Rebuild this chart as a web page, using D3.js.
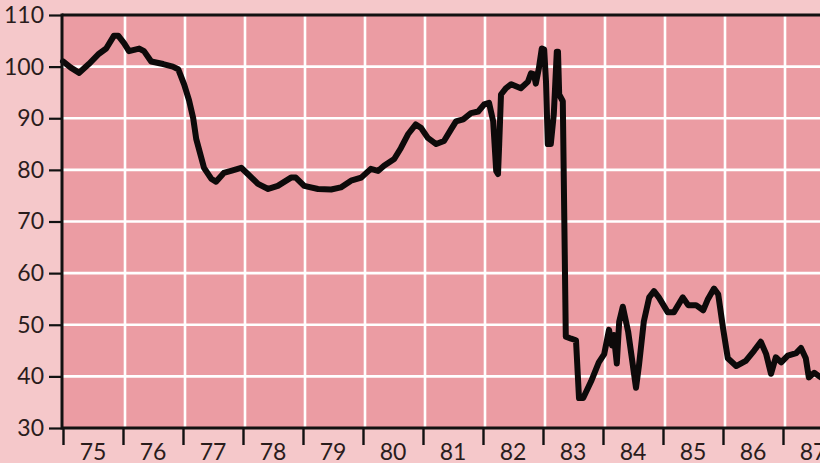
<!DOCTYPE html>
<html>
<head>
<meta charset="utf-8">
<script src="https://cdn.jsdelivr.net/npm/d3@7"></script>
<style>
  html, body { margin: 0; padding: 0; background: #f5c8ca; overflow: hidden; }
  svg { display: block; }
  text { font-family: Lato, "Open Sans", sans-serif; fill: #2a1c1c; }
</style>
</head>
<body>
<svg id="chart" width="820" height="463"></svg>
<script>
// ---- data (decimal year, index value) ----
const dates = [
  1975.00,1975.13,1975.27,1975.43,1975.60,1975.72,1975.85,1975.92,1976.02,1976.10,
  1976.27,1976.35,1976.47,1976.67,1976.83,1976.92,1977.02,1977.10,1977.17,1977.22,
  1977.35,1977.47,1977.55,1977.68,1977.80,1977.97,1978.08,1978.25,1978.42,1978.58,
  1978.80,1978.88,1979.02,1979.25,1979.47,1979.63,1979.80,1979.97,1980.13,1980.25,
  1980.35,1980.52,1980.63,1980.75,1980.88,1980.97,1981.08,1981.22,1981.35,1981.47,
  1981.55,1981.67,1981.80,1981.92,1982.02,1982.10,1982.17,1982.22,1982.25,1982.27,
  1982.30,1982.38,1982.47,1982.63,1982.75,1982.80,1982.85,1982.88,1982.93,1982.98,
  1983.02,1983.05,1983.08,1983.13,1983.18,1983.23,1983.25,1983.27,1983.33,1983.38,
  1983.47,1983.55,1983.60,1983.67,1983.80,1983.93,1984.02,1984.10,1984.15,1984.18,
  1984.23,1984.27,1984.33,1984.42,1984.55,1984.60,1984.68,1984.77,1984.85,1984.93,
  1985.08,1985.18,1985.33,1985.42,1985.55,1985.67,1985.75,1985.85,1985.92,1986.00,
  1986.08,1986.22,1986.38,1986.52,1986.63,1986.72,1986.80,1986.88,1986.97,1987.08,
  1987.22,1987.30,1987.38,1987.43,1987.52,1987.63
];
const values = [
  101.0,99.8,98.8,100.5,102.5,103.5,106.0,106.0,104.5,103.0,
  103.5,103.0,101.0,100.5,100.0,99.5,96.5,93.5,90.0,86.0,
  80.4,78.3,77.7,79.4,79.8,80.4,79.2,77.3,76.3,76.9,
  78.5,78.5,76.9,76.3,76.2,76.6,77.9,78.5,80.2,79.8,
  80.8,82.1,84.2,86.9,88.8,88.1,86.2,85.0,85.6,87.9,
  89.4,89.8,91.0,91.3,92.7,93.0,89.4,79.8,79.2,85.0,
  94.6,95.8,96.6,95.8,97.1,98.7,98.5,96.7,99.6,103.5,
  103.3,97.1,85.0,85.0,90.8,102.9,102.9,94.6,93.3,47.7,
  47.3,47.0,35.8,35.8,39.0,42.7,44.3,49.0,46.0,48.0,
  42.5,50.6,53.5,48.6,37.8,42.2,50.6,55.3,56.5,55.3,
  52.4,52.4,55.3,53.8,53.8,52.8,55.0,57.0,55.9,49.4,
  43.5,42.0,43.0,45.0,46.7,44.3,40.5,43.7,42.7,44.0,
  44.5,45.5,43.5,39.8,40.7,39.8
];
const yTicks = [30, 40, 50, 60, 70, 80, 90, 100, 110];
const yearStarts = [1975,1976,1977,1978,1979,1980,1981,1982,1983,1984,1985,1986,1987,1988];
const yearLabels = ["75","76","77","78","79","80","81","82","83","84","85","86","87"];

// ---- layout ----
const W = 820, H = 463;
const mLeft = 62, mTop = 15, mBottom = 428;
const colPlot = "#eb9ca3";

const svg = d3.select("#chart");
const x = d3.scaleLinear().domain([1975, 1988]).range([mLeft + 1, mLeft + 1 + 13 * 60]);
const y = d3.scaleLinear().domain([30, 110]).range([mBottom, mTop]);

// plot background
svg.append("rect")
  .attr("x", mLeft).attr("y", y(110))
  .attr("width", W - mLeft).attr("height", y(30) - y(110))
  .attr("fill", colPlot);

// grid
const grid = svg.append("g").attr("stroke", "#ffffff").attr("stroke-width", 2.6);
grid.selectAll("line.h").data(yTicks.filter(v => v > 30 && v < 110)).join("line")
  .attr("class", "h")
  .attr("x1", mLeft).attr("x2", W)
  .attr("y1", d => y(d)).attr("y2", d => y(d));
grid.selectAll("line.v").data(yearStarts.filter(v => v > 1975)).join("line")
  .attr("class", "v")
  .attr("y1", y(110)).attr("y2", y(30))
  .attr("x1", d => x(d) + 2).attr("x2", d => x(d) + 2);

// series line
const line = d3.line().x((d, i) => x(dates[i])).y(d => y(d)).curve(d3.curveLinear);
svg.append("path")
  .datum(values)
  .attr("d", line)
  .attr("fill", "none")
  .attr("stroke", "#0d0a0a")
  .attr("stroke-width", 6)
  .attr("stroke-linejoin", "round")
  .attr("stroke-linecap", "round");

// y axis
const yAxis = d3.axisLeft(y).tickValues(yTicks).tickSize(13).tickPadding(5).tickFormat(d3.format("d"));
const gy = svg.append("g").attr("transform", `translate(${mLeft},0)`).call(yAxis);
gy.select(".domain").remove();
gy.selectAll(".tick line").attr("stroke", "#111").attr("stroke-width", 2.2);
gy.selectAll(".tick text").attr("font-size", 23).attr("fill", "#2a1c1c")
  .style("font-family", "Lato, 'Open Sans', sans-serif");

// x axis ticks at year boundaries, labels centred in each year
const xAxis = d3.axisBottom(x).tickValues(yearStarts).tickSize(17).tickFormat("");
const gx = svg.append("g").attr("transform", `translate(0,${y(30)})`).call(xAxis);
gx.select(".domain").remove();
gx.selectAll(".tick line").attr("stroke", "#111").attr("stroke-width", 2.4);
svg.append("g").selectAll("text").data(yearLabels).join("text")
  .attr("x", (d, i) => x(yearStarts[i] + 0.5))
  .attr("y", y(30) + 32)
  .attr("text-anchor", "middle")
  .attr("font-size", 23)
  .text(d => d);

// frame: left axis, top border, bottom axis
const frame = svg.append("g").attr("stroke", "#111").attr("stroke-width", 3);
frame.append("line").attr("x1", mLeft).attr("x2", mLeft).attr("y1", y(110) - 1.5).attr("y2", y(30) + 1.5);
frame.append("line").attr("x1", mLeft).attr("x2", W).attr("y1", y(110)).attr("y2", y(110));
frame.append("line").attr("x1", mLeft).attr("x2", W).attr("y1", y(30)).attr("y2", y(30));
</script>
</body>
</html>
